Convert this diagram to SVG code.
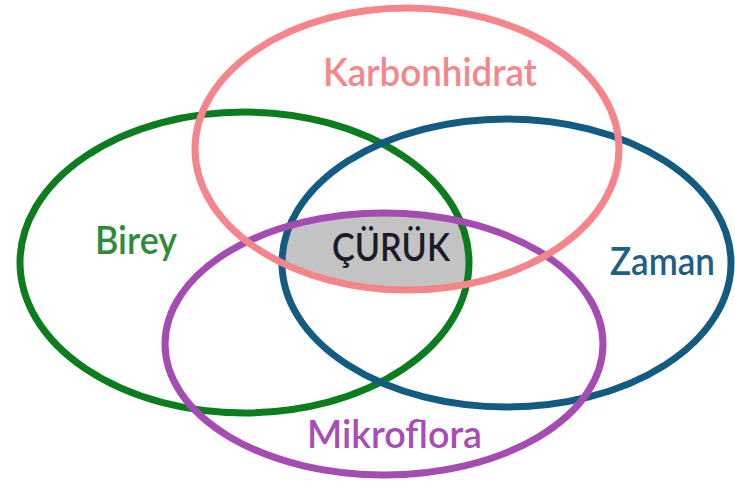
<svg xmlns="http://www.w3.org/2000/svg" width="735" height="483" viewBox="0 0 735 483">
<style>
.e{fill:none;stroke-width:7}
.t{font-family:Lato,"Open Sans","Noto Sans",sans-serif;font-size:39px;font-weight:600}
</style>
<defs>
<clipPath id="cp"><ellipse cx="407" cy="149" rx="212" ry="141"/></clipPath>
<clipPath id="cg"><ellipse cx="244.5" cy="262.5" rx="224.5" ry="150.5"/></clipPath>
<clipPath id="cb"><ellipse cx="506.5" cy="263" rx="224.5" ry="144"/></clipPath>
</defs>
<rect width="735" height="483" fill="#ffffff"/>
<g id="core-fill" clip-path="url(#cp)"><g clip-path="url(#cg)"><g clip-path="url(#cb)">
<ellipse cx="384" cy="344" rx="219" ry="131" fill="#c3c3c3"/>
</g></g></g>
<g id="connectors"></g>
<g id="birey"><ellipse class="e" cx="244.5" cy="262.5" rx="224.5" ry="150.5" stroke="#0b7d1f"/>
<text class="t" x="95" y="254" textLength="82" lengthAdjust="spacingAndGlyphs" fill="#2f8a3a">Birey</text></g>
<g id="zaman"><ellipse class="e" cx="506.5" cy="263" rx="224.5" ry="144" stroke="#135b80"/>
<text class="t" x="610" y="275" textLength="105" lengthAdjust="spacingAndGlyphs" fill="#1f5e86">Zaman</text></g>
<g id="mikroflora"><ellipse class="e" cx="384" cy="344" rx="219" ry="131" stroke="#a44cb2"/>
<text class="t" x="307" y="448" textLength="175" lengthAdjust="spacingAndGlyphs" fill="#a64eb5">Mikroflora</text></g>
<g id="karbonhidrat"><ellipse class="e" cx="407" cy="149" rx="212" ry="141" stroke="#f4858a"/>
<text class="t" x="323" y="86" textLength="214" lengthAdjust="spacingAndGlyphs" fill="#f3878c">Karbonhidrat</text></g>
<g id="curuk"><text class="t" x="332" y="261" textLength="118" lengthAdjust="spacingAndGlyphs" fill="#1c1c28">ÇÜRÜK</text></g>
</svg>
